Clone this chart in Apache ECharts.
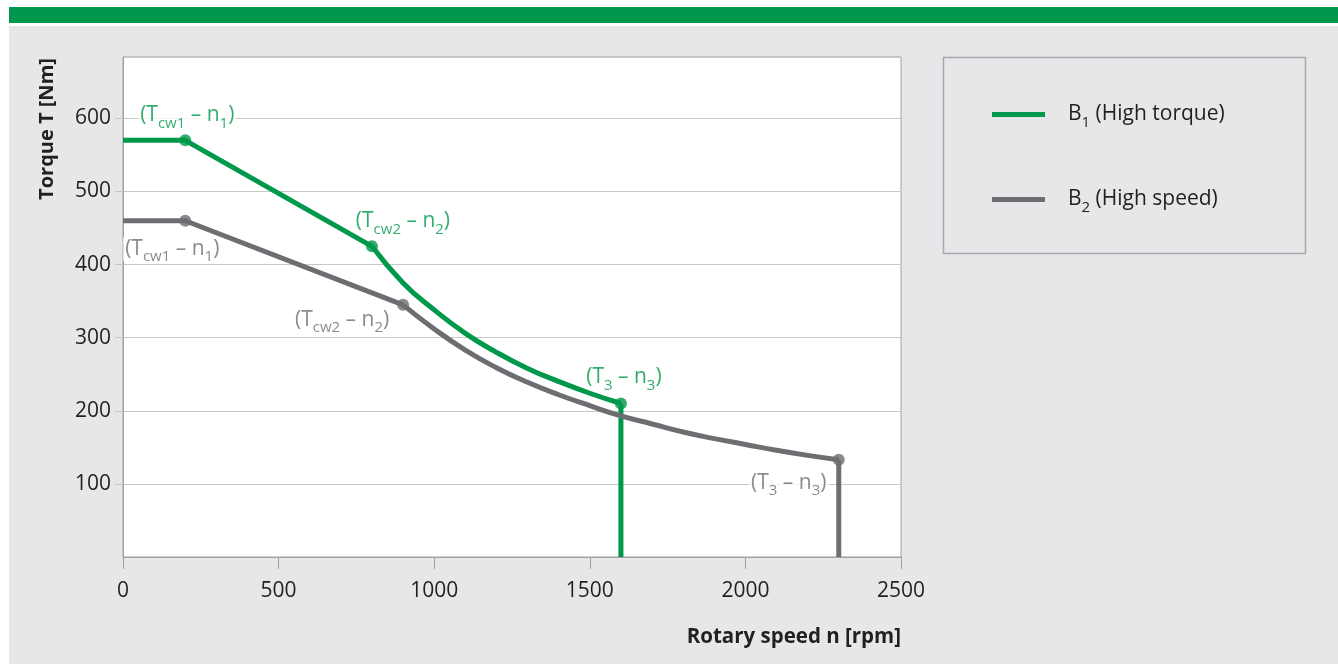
<!DOCTYPE html>
<html>
<head>
<meta charset="utf-8">
<title>Torque / rotary speed</title>
<script src="https://cdn.jsdelivr.net/npm/echarts@6/dist/echarts.min.js"></script>
<style>
  html, body { margin: 0; padding: 0; background: #fff; }
  #chart { width: 1338px; height: 664px; }
</style>
</head>
<body>
<div id="chart"></div>
<script>
// rotary speed n [rpm] / torque T [Nm]
let speedB1 = [0, 200, 800, 900, 1000, 1100, 1200, 1300, 1400, 1500, 1600, 1600];
let torqueB1 = [570, 570, 425, 375, 338, 306, 280, 258, 240, 224, 210, 0];
let speedB2 = [0, 200, 900, 1000, 1100, 1200, 1300, 1400, 1500, 1600, 1700, 1800, 1900, 2000, 2100, 2200, 2300, 2300];
let torqueB2 = [460, 460, 345, 312, 283, 259, 239, 222, 207, 193, 182, 171, 162, 154, 146, 139, 133, 0];
// corner points (index into the arrays above) and their subscripts T.. / n..
let cornersB1 = [1, 2, 10];
let cornersB2 = [1, 2, 16];
let subT = ["cw1", "cw2", "3"];
let subN = ["1", "2", "3"];
let seriesNames = ["B1 (High torque)", "B2 (High speed)"];

const GREEN = "#00984a";
const GREY = "#6d6e71";
const TEXT = "#231f20";
const FONT = "'Open Sans', 'Noto Sans', sans-serif";

// label centre relative to the dot
let labelOffB1 = [[2, -25], [31, -25], [3, -26]];
let labelOffB2 = [[-13, 28], [-61, 15], [-50, 23]];

function zip(xs, ys) {
  return xs.map((x, i) => [x, ys[i]]);
}

function richFor(color) {
  return {
    p: { fontFamily: FONT, fontSize: 21, color: color, lineHeight: 24 },
    // subscript: a short box pinned to the bottom of the line drops the text
    s: { fontFamily: FONT, fontSize: 15, color: color, height: 8, verticalAlign: "bottom" },
  };
}

function cornerPoints(xs, ys, idx, offs) {
  return idx.map((k, i) => ({
    value: [xs[k], ys[k]],
    label: {
      offset: offs[i],
      formatter: "{p|(T}{s|" + subT[i] + "}{p| \u2013 n}{s|" + subN[i] + "}{p|)}",
    },
  }));
}

function legendText(name) {
  let m = name.match(/^B(\d)(.*)$/);
  return "{g|}{p|B}{s|" + m[1] + "}{p|" + m[2] + "}";
}

// one curve = straight start, curved middle, vertical end (same name -> one legend item)
function curveSeries(name, color, xs, ys, corners) {
  let pts = zip(xs, ys);
  let base = {
    name: name,
    type: "line",
    color: color,
    symbol: "none",
    lineStyle: { width: 5, color: color, cap: "butt" },
  };
  return [
    Object.assign({}, base, { data: pts.slice(0, corners[1] + 1) }),
    Object.assign({}, base, { smooth: 0.5, data: pts.slice(corners[1], corners[2] + 1) }),
    Object.assign({}, base, { data: pts.slice(corners[2]) }),
  ];
}

let chartDom = document.getElementById("chart");
let myChart = echarts.init(chartDom);
let option;

option = {
  animation: false,
  backgroundColor: "#fff",
  textStyle: { fontFamily: FONT },
  graphic: {
    elements: [
      {
        type: "rect",
        z: -10,
        silent: true,
        shape: { x: 9, y: 26, width: 1329, height: 638 },
        style: { fill: "#e6e7e8" },
      },
      {
        type: "rect",
        z: -10,
        silent: true,
        shape: { x: 9, y: 7, width: 1329, height: 16 },
        style: { fill: "#00964b" },
      },
      {
        type: "rect",
        z: -5,
        silent: true,
        shape: { x: 943.5, y: 57.5, width: 362, height: 196 },
        style: { fill: "none", stroke: "#a7a9ac", lineWidth: 1.5 },
      },
      {
        type: "text",
        x: 901,
        y: 637,
        style: {
          text: "Rotary speed n [rpm]",
          font: "bold 20.5px " + FONT,
          fill: TEXT,
          textAlign: "right",
          textVerticalAlign: "middle",
        },
      },
      {
        type: "text",
        x: 47,
        y: 129,
        rotation: Math.PI / 2,
        style: {
          text: "Torque T [Nm]",
          font: "bold 20px " + FONT,
          fill: TEXT,
          textAlign: "center",
          textVerticalAlign: "middle",
        },
      },
    ],
  },
  grid: {
    show: true,
    left: 123,
    right: 437,
    top: 57,
    bottom: 107,
    backgroundColor: "#fff",
    borderColor: "#a0a0a0",
    borderWidth: 1,
  },
  legend: [0, 1].map((i) => ({
    data: [seriesNames[i]],
    orient: "vertical",
    left: 992,
    top: i === 0 ? 104 : 189,
    padding: 0,
    icon: "rect",
    itemWidth: 53,
    itemHeight: 5,
    selectedMode: false,
    formatter: legendText,
    textStyle: {
      color: TEXT,
      rich: Object.assign({ g: { width: 18 } }, richFor(TEXT)),
    },
  })),
  xAxis: {
    type: "value",
    min: 0,
    max: 2500,
    interval: 500,
    axisLine: { show: true, lineStyle: { color: "#a0a0a0", width: 1 } },
    axisTick: { show: true, length: 12, lineStyle: { color: "#a0a0a0" } },
    axisLabel: {
      color: TEXT,
      fontSize: 21,
      fontFamily: FONT,
      margin: 24,
      formatter: (v) => String(v),
    },
    splitLine: { show: false },
  },
  yAxis: {
    type: "value",
    min: 0,
    max: 684,
    interval: 100,
    axisLine: { show: true, lineStyle: { color: "#a0a0a0", width: 1 } },
    axisTick: { show: true, length: 8, lineStyle: { color: "#c8c8c8" } },
    axisLabel: {
      color: TEXT,
      fontSize: 21,
      fontFamily: FONT,
      margin: 12,
      showMinLabel: false,
      showMaxLabel: false,
      formatter: (v) => String(v),
    },
    splitLine: { show: true, lineStyle: { color: "#c8c8c8", width: 1 } },
  },
  series: [].concat(
    curveSeries(seriesNames[0], GREEN, speedB1, torqueB1, cornersB1),
    curveSeries(seriesNames[1], GREY, speedB2, torqueB2, cornersB2),
    [
      {
        name: "B1 corners",
        type: "scatter",
        symbolSize: 12,
        itemStyle: { color: GREEN },
        label: {
          show: true,
          position: "inside",
          backgroundColor: "#fff",
          padding: [0, 2],
          rich: richFor(GREEN),
        },
        data: cornerPoints(speedB1, torqueB1, cornersB1, labelOffB1),
      },
      {
        name: "B2 corners",
        type: "scatter",
        symbolSize: 12,
        itemStyle: { color: GREY },
        label: {
          show: true,
          position: "inside",
          backgroundColor: "#fff",
          padding: [0, 2],
          rich: richFor(GREY),
        },
        data: cornerPoints(speedB2, torqueB2, cornersB2, labelOffB2),
      },
    ]
  ),
};

option && myChart.setOption(option);
</script>
</body>
</html>
